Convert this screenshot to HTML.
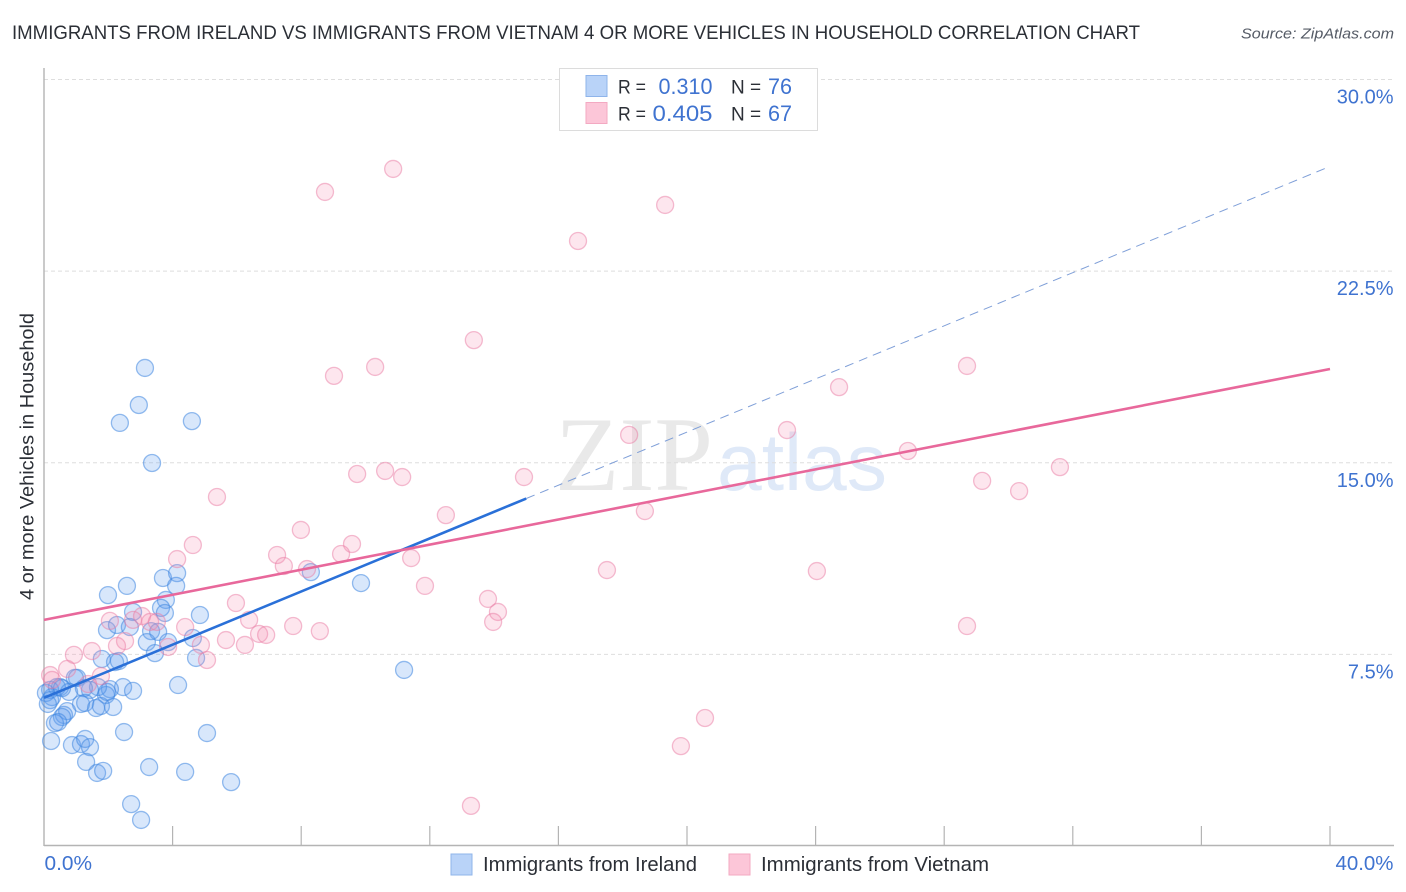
<!DOCTYPE html>
<html lang="en">
<head>
<meta charset="utf-8">
<title>Immigrants from Ireland vs Immigrants from Vietnam correlation chart</title>
<style>
html,body{margin:0;padding:0;background:#fff;width:1406px;height:892px;overflow:hidden}
svg{display:block;font-family:"Liberation Sans",sans-serif}
</style>
</head>
<body>
<svg id="chart" width="1406" height="892" viewBox="0 0 1406 892" xmlns="http://www.w3.org/2000/svg">
  <rect x="0" y="0" width="1406" height="892" fill="#ffffff"/>
  <text x="12" y="39" font-size="19" fill="#2b2f36" textLength="1128" lengthAdjust="spacingAndGlyphs">IMMIGRANTS FROM IRELAND VS IMMIGRANTS FROM VIETNAM 4 OR MORE VEHICLES IN HOUSEHOLD CORRELATION CHART</text>
  <text x="1394" y="38.5" font-size="15" font-style="italic" fill="#555b66" text-anchor="end" textLength="153" lengthAdjust="spacingAndGlyphs">Source: ZipAtlas.com</text>

  <text x="555" y="490" font-family="'Liberation Serif',serif" font-size="106" fill="#e9e9e9" textLength="158" lengthAdjust="spacingAndGlyphs">ZIP</text>
  <text x="717" y="490" font-size="81" fill="#dfe9f8" textLength="170" lengthAdjust="spacingAndGlyphs">atlas</text>

  <g id="grid"></g>
  <g id="axes"></g>
  <g id="points-ireland"></g>
  <g id="points-vietnam"></g>
  <g id="trends"></g>
  <g id="tick-labels"></g>

  <text transform="translate(33.5,456.5) rotate(-90)" font-size="19" fill="#2b2f36" text-anchor="middle" textLength="287" lengthAdjust="spacingAndGlyphs">4 or more Vehicles in Household</text>

  <g>
    <rect x="559.5" y="68.5" width="258" height="62" fill="#ffffff" stroke="#dcdcdc" stroke-width="1"/>
    <rect x="586" y="75.5" width="21" height="21" fill="#b9d3f8" stroke="#8fb4ea" stroke-width="1"/>
    <rect x="586" y="102.5" width="21" height="21" fill="#fcc6d8" stroke="#f3a9c2" stroke-width="1"/>
    <text x="618" y="93.5" font-size="19" fill="#2b2f36" textLength="28" lengthAdjust="spacingAndGlyphs">R =</text>
    <text x="712.5" y="94" font-size="22" fill="#3f73d0" text-anchor="end" textLength="54" lengthAdjust="spacingAndGlyphs">0.310</text>
    <text x="731" y="93.5" font-size="19" fill="#2b2f36">N =</text>
    <text x="768" y="94" font-size="22" fill="#3f73d0" textLength="24" lengthAdjust="spacingAndGlyphs">76</text>
    <text x="618" y="120.5" font-size="19" fill="#2b2f36" textLength="28" lengthAdjust="spacingAndGlyphs">R =</text>
    <text x="712.5" y="121" font-size="22" fill="#3f73d0" text-anchor="end" textLength="60" lengthAdjust="spacingAndGlyphs">0.405</text>
    <text x="731" y="120.5" font-size="19" fill="#2b2f36">N =</text>
    <text x="768" y="121" font-size="22" fill="#3f73d0" textLength="24" lengthAdjust="spacingAndGlyphs">67</text>
  </g>

  <g>
    <rect x="451" y="854" width="21" height="21" fill="#b9d3f8" stroke="#8fb4ea" stroke-width="1"/>
    <text x="483" y="871" font-size="20" fill="#2b2f36" textLength="214" lengthAdjust="spacingAndGlyphs">Immigrants from Ireland</text>
    <rect x="729" y="854" width="21" height="21" fill="#fcc6d8" stroke="#f3a9c2" stroke-width="1"/>
    <text x="761" y="871" font-size="20" fill="#2b2f36" textLength="228" lengthAdjust="spacingAndGlyphs">Immigrants from Vietnam</text>
  </g>
</svg>
<script>
// Data (percent units)
const irelandX = [3.14,2.95,2.36,4.60,3.36,3.70,4.14,2.58,4.11,1.99,3.79,4.85,2.77,3.64,3.76,1.96,2.27,2.67,3.33,3.55,3.20,3.86,3.45,4.63,4.73,1.80,2.21,2.33,4.17,2.46,2.77,2.05,1.93,1.68,1.43,1.03,0.96,0.50,0.40,0.78,1.24,0.25,0.19,0.06,1.15,1.28,1.62,1.77,2.15,0.72,0.62,0.56,0.34,0.44,0.22,0.87,1.15,1.28,1.43,2.49,5.07,1.31,1.65,1.84,3.27,4.39,5.82,2.71,3.02,8.30,9.86,11.20,0.19,0.12,0.56,1.96];
const irelandY = [18.71,17.26,16.56,16.63,14.99,10.49,10.68,10.18,10.18,9.82,9.63,9.04,9.16,9.32,9.12,8.45,8.65,8.57,8.41,8.38,7.98,7.98,7.55,8.14,7.36,7.32,7.20,7.24,6.30,6.22,6.07,6.14,5.91,6.22,6.11,6.58,6.58,6.22,6.22,6.03,6.18,5.83,6.11,5.99,5.56,5.60,5.40,5.48,5.44,5.28,5.13,5.05,4.81,4.85,4.11,3.95,3.99,4.19,3.87,4.46,4.42,3.29,2.86,2.94,3.09,2.90,2.50,1.64,1.02,10.72,10.29,6.89,5.71,5.56,6.18,6.03];
const vietnamX = [10.86,8.74,19.32,16.61,13.37,9.02,10.30,28.71,24.73,23.11,18.20,26.87,31.60,29.18,30.33,9.74,10.61,11.14,14.93,5.38,12.50,18.69,7.99,4.63,9.58,7.25,9.24,11.42,4.14,7.46,8.18,17.51,24.04,11.85,5.97,13.81,14.12,13.97,28.71,6.38,7.75,8.58,4.39,6.69,6.91,5.66,6.25,4.88,3.86,5.07,2.05,2.77,3.05,3.30,3.51,2.52,2.27,1.49,0.93,1.77,0.72,0.19,0.25,1.37,20.56,19.81,13.28];
const vietnamY = [26.50,25.60,25.09,23.68,19.80,18.40,18.75,18.79,17.96,16.28,16.09,15.46,14.83,14.29,13.89,14.56,14.68,14.44,14.44,13.66,12.95,13.11,12.37,11.78,11.82,11.39,11.43,11.27,11.23,10.96,10.84,10.80,10.76,10.18,9.51,9.67,9.16,8.77,8.61,8.85,8.61,8.41,8.57,8.30,8.26,8.06,7.87,7.87,7.79,7.28,8.81,8.85,9.00,8.77,8.77,8.02,7.83,7.63,7.48,6.65,6.93,6.69,6.50,6.34,5.01,3.91,1.57];
const irelandTrendX = [0, 15, 40];
const irelandTrendY = [5.80, 13.60, 26.60];
const vietnamTrendX = [0, 40];
const vietnamTrendY = [8.85, 18.67];
const yTicks = [7.5, 15, 22.5, 30];
const yTickLabels = ["7.5%", "15.0%", "22.5%", "30.0%"];
const xTicks = [4, 8, 12, 16, 20, 24, 28, 32, 36, 40];
const xEndLabels = ["0.0%", "40.0%"];

// Axis functions
const NS = "http://www.w3.org/2000/svg";
function sx(v) { return 44 + v * 32.15; }
function sy(v) { return 846 - v * 25.55; }
function make(tag, attrs, parent) {
  const el = document.createElementNS(NS, tag);
  for (const k in attrs) el.setAttribute(k, attrs[k]);
  parent.appendChild(el);
  return el;
}

const gridG = document.getElementById("grid");
const axesG = document.getElementById("axes");
const irelandG = document.getElementById("points-ireland");
const vietnamG = document.getElementById("points-vietnam");
const trendG = document.getElementById("trends");
const labelG = document.getElementById("tick-labels");

yTicks.forEach(function (t) {
  const l = make("line", { x1: 44, x2: 1394, y1: sy(t), y2: sy(t), stroke: "#dedede", "stroke-width": 1, "stroke-dasharray": "4 3" }, gridG);
  
  
});

const yAxisLine = make("line", { x1: 44, x2: 44, y1: 68, y2: 846, stroke: "#b4b4b4", "stroke-width": 1.4 }, axesG);


const xAxisLine = make("line", { x1: 44, x2: 1394, y1: 845.5, y2: 845.5, stroke: "#b4b4b4", "stroke-width": 1.4 }, axesG);


xTicks.forEach(function (t) {
  const l = make("line", { x1: sx(t), x2: sx(t), y1: 826, y2: 845, stroke: "#b4b4b4", "stroke-width": 1.2 }, axesG);
  
  
});

irelandX.forEach(function (x, i) {
  const c = make("circle", { cx: sx(x), cy: sy(irelandY[i]), r: 8.5, fill: "#5b9bf0", "fill-opacity": 0.24, stroke: "#3f87e0", "stroke-opacity": 0.55, "stroke-width": 1.3 }, irelandG);
  
  
});
vietnamX.forEach(function (x, i) {
  const c = make("circle", { cx: sx(x), cy: sy(vietnamY[i]), r: 8.5, fill: "#f78db3", "fill-opacity": 0.22, stroke: "#ea7ba4", "stroke-opacity": 0.5, "stroke-width": 1.3 }, vietnamG);
  
  
});

const irelandDash = make("line", { x1: sx(irelandTrendX[1]), y1: sy(irelandTrendY[1]), x2: sx(irelandTrendX[2]), y2: sy(irelandTrendY[2]), stroke: "#7f9fd8", "stroke-width": 1, "stroke-dasharray": "9 6" }, trendG);


const irelandSolid = make("line", { x1: sx(irelandTrendX[0]), y1: sy(irelandTrendY[0]), x2: sx(irelandTrendX[1]), y2: sy(irelandTrendY[1]), stroke: "#2a70d8", "stroke-width": 2.6 }, trendG);


const vietnamLine = make("line", { x1: sx(vietnamTrendX[0]), y1: sy(vietnamTrendY[0]), x2: sx(vietnamTrendX[1]), y2: sy(vietnamTrendY[1]), stroke: "#e8689b", "stroke-width": 2.6 }, trendG);



yTicks.forEach(function (t, i) {
  const el = make("text", { x: 1393.5, y: sy(t) + 24, "font-size": 20, fill: "#3f73d0", "text-anchor": "end" }, labelG);
  el.textContent = yTickLabels[i];
  
  
});
const xStart = make("text", { x: 44.5, y: 870, "font-size": 20, fill: "#3f73d0", textLength: 47.5, lengthAdjust: "spacingAndGlyphs" }, labelG);
xStart.textContent = xEndLabels[0];


const xEnd = make("text", { x: 1393.5, y: 870, "font-size": 20, fill: "#3f73d0", "text-anchor": "end", textLength: 58, lengthAdjust: "spacingAndGlyphs" }, labelG);
xEnd.textContent = xEndLabels[1];


</script>
</body>
</html>
